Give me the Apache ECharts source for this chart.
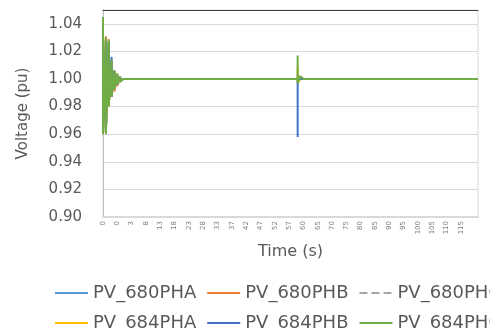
<!DOCTYPE html>
<html>
<head>
<meta charset="utf-8">
<title>PV voltage</title>
<script src="https://cdn.jsdelivr.net/npm/echarts@6.0.0/dist/echarts.min.js"></script>
<style>
  html, body { margin: 0; padding: 0; background: #fff; }
  #chart { width: 490px; height: 331px; }
</style>
</head>
<body>
<div id="chart"></div>
<script>
// time samples (s), one per category; Excel shows every 5th one
const times = [
  0, 0.05, 0.1, 0.15, 0.2, 0.3, 0.8, 1.3, 1.8, 2.3,
  3, 4, 5, 6, 7, 8, 9, 10, 11, 12,
  13, 14, 15, 16, 17, 18, 19, 20, 21, 22,
  23, 24, 25, 26, 27, 28, 29, 30, 31, 32,
  33, 33.8, 34.6, 35.4, 36.2, 37, 38, 39, 40, 41,
  42, 43, 44, 45, 46, 47, 48, 49, 50, 51,
  52, 53, 54, 55, 56, 57, 57.6, 58.2, 58.8, 59.4,
  60, 61, 62, 63, 64, 65, 66, 67, 68, 69,
  70, 71, 72, 73, 74, 75, 76, 77, 78, 79,
  80, 81, 82, 83, 84, 85, 86, 87, 88, 89,
  90, 91, 92, 93, 94, 95, 96, 97, 98, 99,
  100, 101, 102, 103, 104, 105, 106, 107, 108, 109,
  110, 111, 112, 113, 114, 115, 116, 117, 118, 119,
  120, 121
]

const seriesNames = ['PV_680PHA', 'PV_680PHB', 'PV_680PHC', 'PV_684PHA', 'PV_684PHB', 'PV_684PHC']
const yTicks = [0.90, 0.92, 0.94, 0.96, 0.98, 1.00, 1.02, 1.04]

// [time, voltage pu]
const pv680A = [[0, 1.0], [0, 1.042], [0, 0.963], [0.05, 1.027], [0.05, 0.961], [0.1, 1.026], [0.1, 0.981],
  [0.15, 1.013], [0.15, 0.987], [0.2, 1.006], [0.2, 0.993], [0.3, 1.003], [0.3, 0.996], [0.8, 1.001], [0.8, 0.999],
  [1.3, 1.0], [58.8, 1.0], [58.8, 1.003], [59.4, 1.0], [121, 1.0]]
const pv680B = [[0, 1.0], [0, 1.04], [0, 0.965], [0.05, 1.031], [0.05, 0.962], [0.1, 1.029], [0.1, 0.982],
  [0.15, 1.012], [0.15, 0.988], [0.2, 1.005], [0.2, 0.991], [0.3, 1.003], [0.3, 0.995], [0.8, 1.001], [0.8, 0.998],
  [1.3, 1.0], [58.8, 1.0], [58.8, 0.999], [59.4, 1.0], [121, 1.0]]
const pv680C = [[0, 1.0], [0, 1.041], [0, 0.962], [0.05, 1.028], [0.05, 0.962], [0.1, 1.027], [0.1, 0.981],
  [0.15, 1.013], [0.15, 0.987], [0.2, 1.006], [0.2, 0.993], [0.3, 1.003], [0.3, 0.996], [0.8, 1.001], [0.8, 0.999],
  [1.3, 1.0], [58.8, 1.0], [58.8, 1.002], [59.4, 1.0], [121, 1.0]]
const pv684A = [[0, 1.0], [0, 1.043], [0, 0.961], [0.05, 1.029], [0.05, 0.961], [0.1, 1.027], [0.1, 0.98],
  [0.15, 1.013], [0.15, 0.987], [0.2, 1.006], [0.2, 0.993], [0.3, 1.004], [0.3, 0.996], [0.8, 1.001], [0.8, 0.999],
  [1.3, 1.0], [58.8, 1.0], [58.8, 1.01], [58.8, 0.997], [59.4, 1.0], [121, 1.0]]
const pv684B = [[0, 1.0], [0, 1.043], [0, 0.962], [0.05, 1.028], [0.05, 0.962], [0.1, 1.027], [0.1, 0.981],
  [0.15, 1.016], [0.15, 0.987], [0.2, 1.006], [0.2, 0.993], [0.3, 1.003], [0.3, 0.996], [0.8, 1.001], [0.8, 0.999],
  [1.3, 1.0], [58.8, 1.0], [58.8, 0.958], [58.8, 1.0], [121, 1.0]]
const pv684C = [[0, 1.0], [0, 1.045], [0, 0.96], [0.05, 1.03], [0.05, 0.96], [0.1, 1.028], [0.1, 0.98],
  [0.15, 1.014], [0.15, 0.987], [0.2, 1.006], [0.2, 0.993], [0.3, 1.004], [0.3, 0.996], [0.8, 1.002], [0.8, 0.998],
  [1.3, 1.0], [58.8, 1.0], [58.8, 1.017], [58.8, 0.997], [59.4, 1.002], [60, 1.0], [121, 1.0]]

const seriesData = [pv680A, pv680B, pv680C, pv684A, pv684B, pv684C]
const colors = ['#5B9BD5', '#ED7D31', '#A5A5A5', '#FFC000', '#4472C4', '#70AD47']
const lineTypes = ['solid', 'solid', 'dashed', 'solid', 'solid', 'solid']

const categories = times.map(t => String(t))
const font = 'DejaVu Sans'
const textGray = '#595959'

function legendRow(names, top) {
  return {
    data: names,
    left: 49, top: top,
    width: 1000,
    itemWidth: 33, itemHeight: 12, itemGap: 10,
    itemStyle: { opacity: 0 },
    textStyle: { fontSize: 18, color: textGray, fontFamily: font }
  }
}

let chart = echarts.init(document.getElementById('chart'))
let option = {
  animation: false,
  textStyle: { fontFamily: font },
  grid: {
    left: 103, right: 12, top: 10, bottom: 114,
    show: true, borderColor: '#d9d9d9', borderWidth: 1
  },
  legend: [
    legendRow(seriesNames.slice(0, 3), 279),
    legendRow(seriesNames.slice(3), 309)
  ],
  xAxis: [
    {
      type: 'category',
      data: categories,
      boundaryGap: false,
      name: 'Time (s)',
      nameLocation: 'middle',
      nameGap: 27,
      nameTextStyle: { fontSize: 16, color: textGray, fontFamily: font },
      axisLine: { lineStyle: { color: '#d9d9d9', width: 2 } },
      axisTick: { show: false },
      axisLabel: {
        interval: (i) => i % 5 === 0 && i <= 125,
        rotate: 90,
        fontSize: 7,
        color: '#7f7f7f',
        margin: 4,
        formatter: (v) => String(Math.round(Number(v)))
      },
      splitLine: { show: false }
    },
    {
      type: 'category',
      data: categories,
      position: 'top',
      boundaryGap: false,
      axisLine: { lineStyle: { color: '#404040', width: 1 } },
      axisTick: { show: false },
      axisLabel: { show: false }
    }
  ],
  yAxis: {
    type: 'value',
    min: 0.90,
    max: 1.05,
    interval: 0.02,
    name: 'Voltage (pu)',
    nameLocation: 'middle',
    nameGap: 72,
    nameTextStyle: { fontSize: 15, color: textGray, fontFamily: font },
    axisLine: { show: true, lineStyle: { color: '#bfbfbf' } },
    axisTick: { show: false },
    axisLabel: {
      fontSize: 15,
      color: textGray,
      margin: 21,
      formatter: (v) => yTicks.some(t => Math.abs(t - v) < 1e-6) ? v.toFixed(2) : ''
    },
    splitLine: { lineStyle: { color: '#d9d9d9', width: 1 } }
  },
  series: seriesNames.map((name, k) => ({
    name: name,
    type: 'line',
    symbol: 'none',
    color: colors[k],
    lineStyle: { width: 2, type: lineTypes[k], color: colors[k] },
    data: seriesData[k].map(p => [String(p[0]), p[1]])
  }))
}
option && chart.setOption(option)
</script>
</body>
</html>
